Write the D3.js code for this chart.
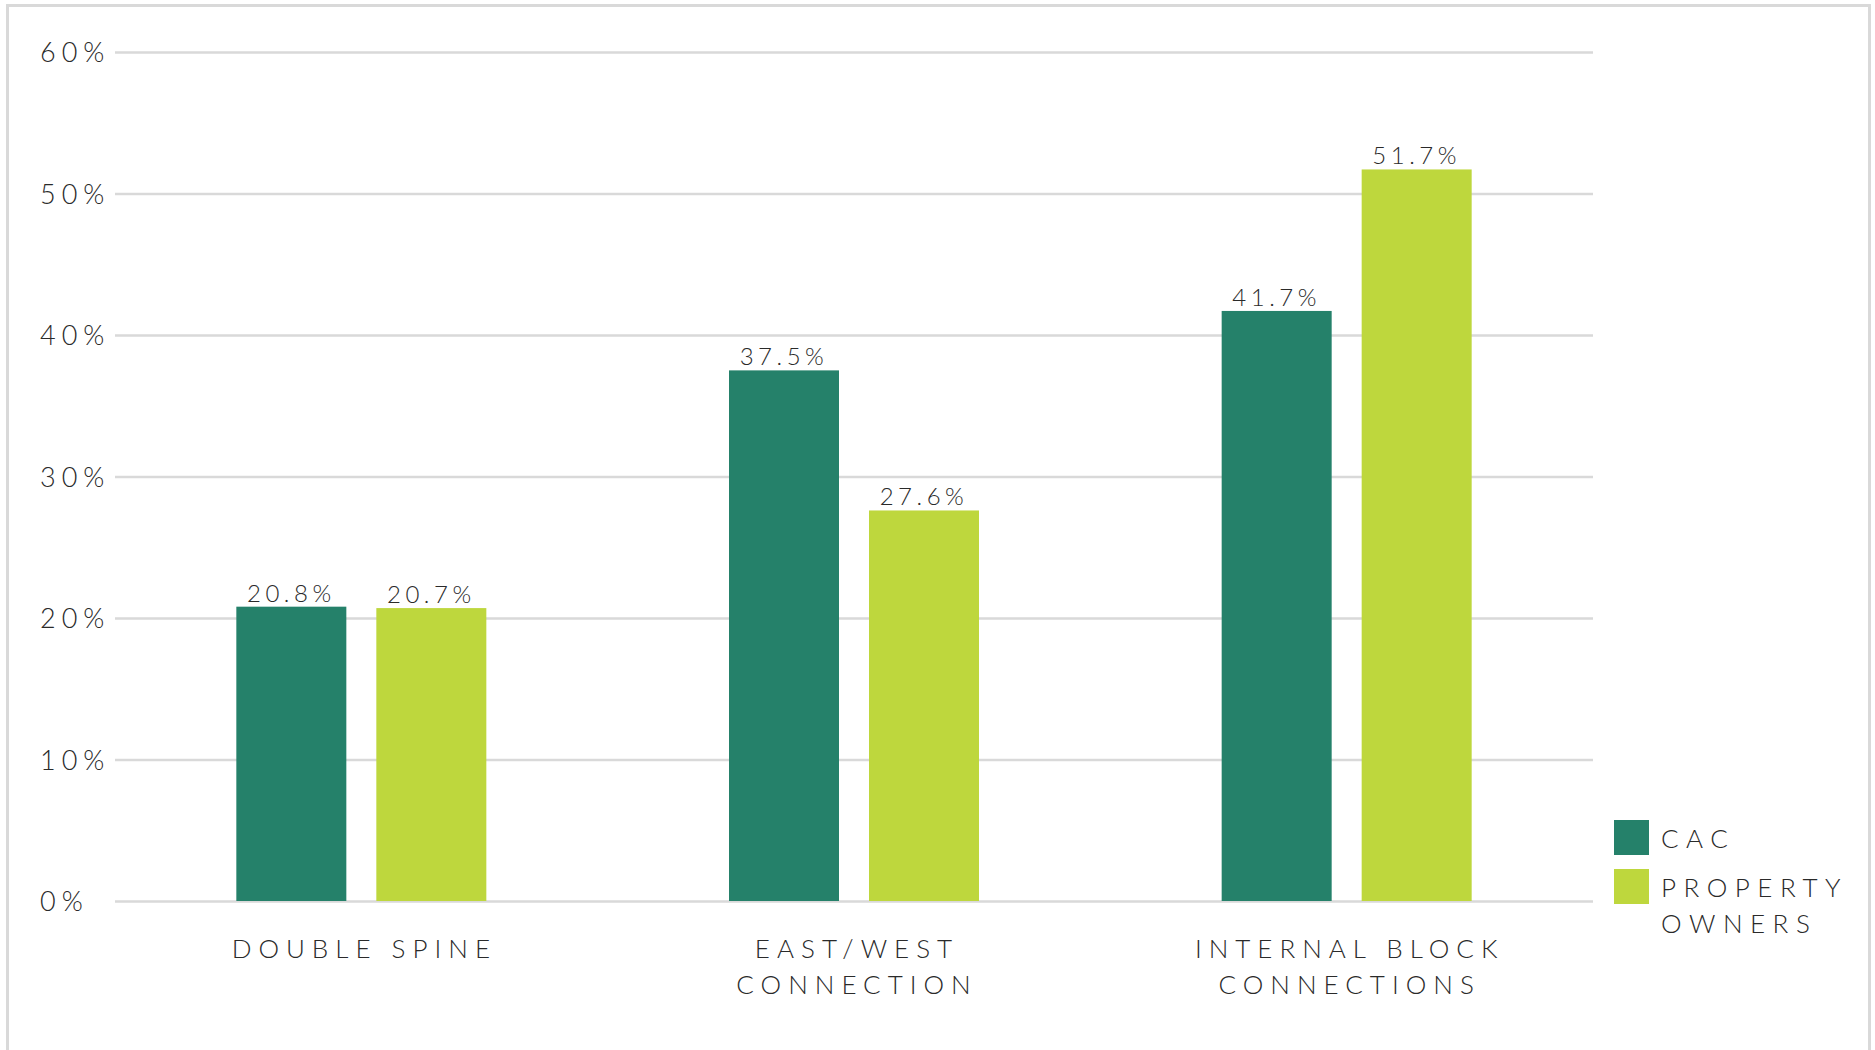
<!DOCTYPE html>
<html>
<head>
<meta charset="utf-8">
<script src="https://cdn.jsdelivr.net/npm/d3@7/dist/d3.min.js"></script>
<style>
  html, body { margin: 0; padding: 0; background: #fff; }
  svg text { font-family: "Lato", "Open Sans", sans-serif; font-weight: 300; fill: #2a2a2a; }
</style>
</head>
<body>
<svg id="chart" width="1875" height="1050"></svg>
<script>
const categories = [["DOUBLE SPINE"], ["EAST/WEST", "CONNECTION"], ["INTERNAL BLOCK", "CONNECTIONS"]];
const categoryKeys = ["Double Spine", "East/West Connection", "Internal Block Connections"];
const seriesNames = ["CAC", "PROPERTY OWNERS"];
const cacValues = [0.208, 0.375, 0.417];
const ownerValues = [0.207, 0.276, 0.517];
const yTicks = [0, 0.1, 0.2, 0.3, 0.4, 0.5, 0.6];
const colors = ["#25816A", "#BED73D"];

const svg = d3.select("#chart");

// frame
svg.append("path")
  .attr("d", "M7.5,1050 L7.5,5.5 L1869.5,5.5 L1869.5,1050")
  .attr("fill", "none").attr("stroke", "#d9d9d9").attr("stroke-width", 3);

const plotLeft = 115, plotRight = 1593, plotTop = 52, plotBottom = 901;

const x0 = d3.scaleBand().domain(categoryKeys).range([plotLeft, plotRight]).padding(0);
const bw = 110, gap = 30, step = bw + gap;
const pInner = gap / step;
const pOuter = (x0.bandwidth() / step - 2 + pInner) / 2;
const x1 = d3.scaleBand().domain(seriesNames).range([0, x0.bandwidth()])
  .paddingInner(pInner).paddingOuter(pOuter);
const y = d3.scaleLinear().domain([0, 0.6]).range([plotBottom, plotTop]);

// gridlines
const yAxis = d3.axisLeft(y).tickValues(yTicks).tickSize(-(plotRight - plotLeft)).tickFormat("");
const gGrid = svg.append("g").attr("transform", `translate(${plotLeft},0)`).call(yAxis);
gGrid.select(".domain").remove();
gGrid.selectAll(".tick line").attr("stroke", "#d9d9d9").attr("stroke-width", 2.5);

// y tick labels
svg.append("g").selectAll("text").data(yTicks).join("text")
  .attr("x", 40).attr("y", d => y(d) + 10)
  .style("font-size", "27px").style("letter-spacing", "6px")
  .text(d => d3.format(".0%")(d));

// bars
const data = categoryKeys.map((k, i) => ({ key: k, values: [cacValues[i], ownerValues[i]] }));
const groups = svg.append("g").selectAll("g").data(data).join("g")
  .attr("transform", d => `translate(${x0(d.key)},0)`);
groups.selectAll("rect").data(d => d.values.map((v, j) => ({ s: seriesNames[j], v, j })))
  .join("rect")
  .attr("x", d => x1(d.s)).attr("width", x1.bandwidth())
  .attr("y", d => y(d.v)).attr("height", d => y(0) - y(d.v))
  .attr("fill", d => colors[d.j]);
groups.selectAll("text.val").data(d => d.values.map((v, j) => ({ s: seriesNames[j], v, j })))
  .join("text").attr("class", "val")
  .attr("x", d => x1(d.s) + x1.bandwidth() / 2)
  .attr("y", d => y(d.v) - 5)
  .attr("text-anchor", "middle")
  .style("font-size", "24px").style("letter-spacing", "4.5px")
  .text(d => d3.format(".1%")(d.v));

// x labels
const xl = svg.append("g").selectAll("text").data(categories).join("text")
  .attr("x", (d, i) => x0(categoryKeys[i]) + x0.bandwidth() / 2 + 3)
  .attr("y", 958)
  .attr("text-anchor", "middle")
  .style("font-size", "26px").style("letter-spacing", "7px");
xl.selectAll("tspan").data(d => d).join("tspan")
  .attr("x", function () { return d3.select(this.parentNode).attr("x"); })
  .attr("dy", (d, i) => i === 0 ? 0 : 36)
  .text(d => d);

// legend
const legendLines = [["CAC"], ["PROPERTY", "OWNERS"]];
const lg = svg.append("g").selectAll("g").data(seriesNames).join("g")
  .attr("transform", (d, i) => `translate(1614,${820 + i * 49})`);
lg.append("rect").attr("width", 35).attr("height", 35).attr("fill", (d, i) => colors[i]);
const lt = lg.append("text").attr("x", 47).attr("y", 28)
  .style("font-size", "26px").style("letter-spacing", "7.5px");
lt.selectAll("tspan").data((d, i) => legendLines[i]).join("tspan")
  .attr("x", 47).attr("dy", (d, i) => i === 0 ? 0 : 36).text(d => d);
</script>
</body>
</html>
